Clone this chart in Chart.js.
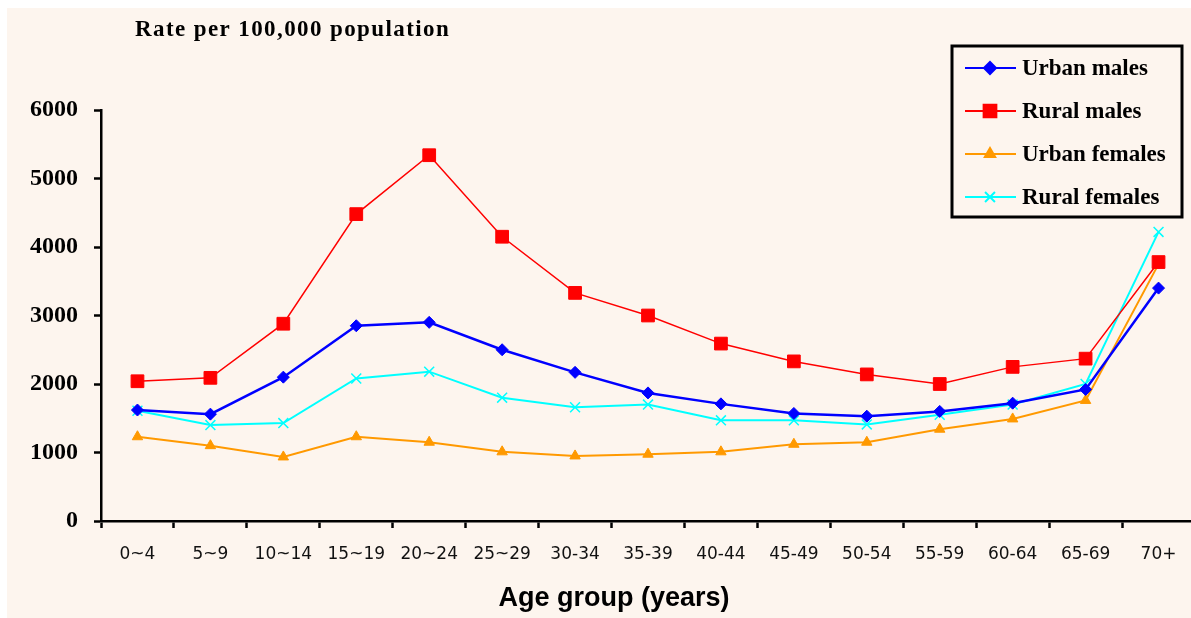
<!DOCTYPE html>
<html>
<head>
<meta charset="utf-8">
<script src="https://cdn.jsdelivr.net/npm/chart.js@4/dist/chart.umd.min.js"></script>
<style>
  html, body { margin: 0; padding: 0; background: #fff; overflow: hidden; }
  #wrap { width: 1191px; height: 618px; overflow: hidden; position: relative; }
  canvas { display: block; }
</style>
</head>
<body>
<div id="wrap"><canvas id="myChart" width="1205" height="618"></canvas></div>
<script>
// age groups on the x axis
const ageGroups = ["0~4", "5~9", "10~14", "15~19", "20~24", "25~29", "30-34", "35-39",
  "40-44", "45-49", "50-54", "55-59", "60-64", "65-69", "70+"];

// rate per 100,000 population
const urbanMales   = [1620, 1560, 2100, 2850, 2900, 2500, 2170, 1870, 1710, 1570, 1530, 1600, 1720, 1920, 3400];
const ruralMales   = [2040, 2090, 2880, 4480, 5340, 4150, 3330, 3000, 2590, 2330, 2140, 2000, 2250, 2370, 3780];
const urbanFemales = [1230, 1100, 935, 1230, 1150, 1010, 950, 975, 1010, 1120, 1150, 1340, 1490, 1760, 3750];
const ruralFemales = [1610, 1400, 1430, 2080, 2180, 1800, 1660, 1700, 1470, 1470, 1410, 1550, 1700, 2000, 4220];

const yTicks = [0, 1000, 2000, 3000, 4000, 5000, 6000];

const BG = "#fdf5ee";

const bgPlugin = {
  id: "bg",
  beforeDraw(chart) {
    const ctx = chart.ctx;
    ctx.save();
    ctx.fillStyle = "#ffffff";
    ctx.fillRect(0, 0, chart.width, chart.height);
    ctx.fillStyle = BG;
    ctx.fillRect(7, 8, chart.width - 7, chart.height - 8);
    ctx.restore();
  }
};

const textPlugin = {
  id: "texts",
  afterDraw(chart) {
    const ctx = chart.ctx;
    ctx.save();
    // y axis caption
    ctx.fillStyle = "#000";
    ctx.font = "bold 23px 'Liberation Serif'";
    ctx.letterSpacing = "1.4px";
    ctx.textBaseline = "alphabetic";
    ctx.textAlign = "left";
    ctx.fillText("Rate per 100,000 population", 135, 36);
    ctx.letterSpacing = "0px";

    // x axis caption
    ctx.font = "bold 27px 'Liberation Sans'";
    ctx.textAlign = "center";
    ctx.fillText("Age group (years)", 614, 606);

    // legend box
    const lx = 952, ly = 46, lw = 230, lh = 171;
    ctx.fillStyle = BG;
    ctx.fillRect(lx, ly, lw, lh);
    ctx.lineWidth = 3;
    ctx.strokeStyle = "#000";
    ctx.strokeRect(lx, ly, lw, lh);

    chart.data.datasets.forEach((ds, i) => {
      const y = 68 + i * 43;
      ctx.strokeStyle = ds.borderColor;
      ctx.lineWidth = 2;
      ctx.beginPath();
      ctx.moveTo(965, y);
      ctx.lineTo(1016, y);
      ctx.stroke();
      ctx.fillStyle = ds.pointBackgroundColor;
      ctx.strokeStyle = ds.pointBorderColor;
      Chart.helpers.drawPoint(ctx, {
        pointStyle: ds.pointStyle,
        radius: ds.pointRadius,
        borderWidth: ds.pointBorderWidth,
        rotation: 0
      }, 990, y);
      ctx.fillStyle = "#000";
      ctx.font = "bold 23px 'Liberation Serif'";
      ctx.textAlign = "left";
      ctx.textBaseline = "middle";
      ctx.fillText(ds.label, 1022, y + 1);
    });
    ctx.restore();
  }
};

const ctx = document.getElementById("myChart").getContext("2d");

new Chart(ctx, {
  type: "line",
  data: {
    labels: ageGroups,
    datasets: [
      {
        label: "Urban males",
        data: urbanMales,
        borderColor: "#0000ff",
        borderWidth: 2.5,
        pointStyle: "rectRot",
        pointRadius: 6,
        pointBackgroundColor: "#0000ff",
        pointBorderColor: "#0000ff",
        pointBorderWidth: 1
      },
      {
        label: "Rural males",
        data: ruralMales,
        borderColor: "#ff0000",
        borderWidth: 1.5,
        pointStyle: "rect",
        pointRadius: 9,
        pointBackgroundColor: "#ff0000",
        pointBorderColor: "#ff0000",
        pointBorderWidth: 1
      },
      {
        label: "Urban females",
        data: urbanFemales,
        borderColor: "#ff9900",
        borderWidth: 2,
        pointStyle: "triangle",
        pointRadius: 6,
        pointBackgroundColor: "#ff9900",
        pointBorderColor: "#ff9900",
        pointBorderWidth: 1
      },
      {
        label: "Rural females",
        data: ruralFemales,
        borderColor: "#00ffff",
        borderWidth: 2,
        pointStyle: "crossRot",
        pointRadius: 7,
        pointBackgroundColor: "#00ffff",
        pointBorderColor: "#00ffff",
        pointBorderWidth: 1.5
      }
    ]
  },
  options: {
    responsive: false,
    animation: false,
    devicePixelRatio: 1,
    layout: { padding: { top: 110, left: 0, right: 0, bottom: 0 } },
    elements: { line: { tension: 0, fill: false } },
    plugins: {
      legend: { display: false },
      tooltip: { enabled: false }
    },
    scales: {
      x: {
        offset: true,
        grid: {
          offset: true,
          drawOnChartArea: false,
          drawTicks: true,
          tickLength: 7,
          tickWidth: 2.5,
          tickColor: "#000"
        },
        border: { display: true, color: "#000", width: 2.5 },
        ticks: {
          color: "#111",
          font: { family: "'DejaVu Sans'", size: 17 },
          padding: 16,
          maxRotation: 0,
          autoSkip: false
        },
        afterFit(scale) { scale.height = 97; }
      },
      y: {
        min: 0,
        max: 6000,
        afterBuildTicks(scale) { scale.ticks = yTicks.map(v => ({ value: v })); },
        grid: {
          drawOnChartArea: false,
          drawTicks: true,
          tickLength: 7,
          tickWidth: 2.5,
          tickColor: "#000"
        },
        border: { display: true, color: "#000", width: 2.5 },
        ticks: {
          color: "#000",
          font: { family: "'Liberation Serif'", size: 24, weight: "bold" },
          padding: 16,
          callback: (v) => String(v)
        },
        afterFit(scale) { scale.width = 101; }
      }
    }
  },
  plugins: [bgPlugin, textPlugin]
});
</script>
</body>
</html>
